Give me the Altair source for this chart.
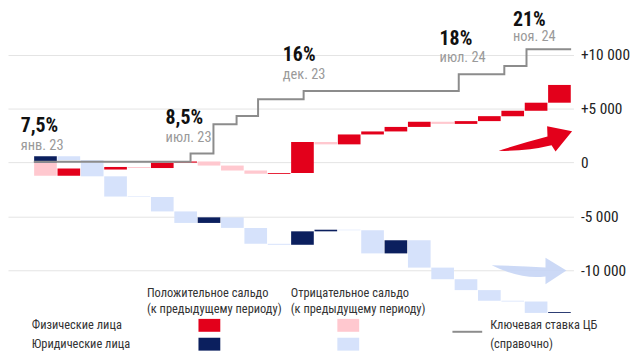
import altair as alt
import pandas as pd

FONT = "Roboto Condensed, Liberation Sans Narrow, DejaVu Sans Condensed, Roboto, sans-serif"

months = ["янв. 23", "фев. 23", "мар. 23", "апр. 23", "май 23", "июн. 23", "июл. 23",
          "авг. 23", "сен. 23", "окт. 23", "ноя. 23", "дек. 23", "янв. 24", "фев. 24",
          "мар. 24", "апр. 24", "май 24", "июн. 24", "июл. 24", "авг. 24", "сен. 24",
          "окт. 24", "ноя. 24"]
phys_change = [-1230, 670, -100, 240, -100, 500, 110, -380, -460, -310, 80, 2880,
               -220, 920, 280, 420, 480, -200, 260, 460, 500, 750, 1650]
legal_change = [580, -370, -1500, -1880, -40, -1340, -1070, 520, -980, -1480, -90, 1250,
                150, -50, -2150, 1220, -2540, -1080, -1010, -990, -70, -1060, 80]
rate_from = [0, 6.71, 7.69, 8.68, 9.60, 11.55, 18.19, 20.14, 21.09, 23.0]
rate_level = [7.5, 8.5, 12, 13, 15, 16, 18, 19, 21, 21]
note_value = ["7,5%", "8,5%", "16%", "18%", "21%"]
note_date = ["янв. 23", "июл. 23", "дек. 23", "июл. 24", "ноя. 24"]
note_level = [7.5, 8.5, 16, 18, 21]
note_from = [-0.56, 5.64, 10.66, 17.37, 20.51]
axis_ticks = [-10000, -5000, 0, 5000, 10000]
arrow_month = [21.47, 21.2]
arrow_value = [2240, -10065]

RED, PINK, NAVY, LBLUE, GREY = "#e3001b", "#ffc8cf", "#0b1f5e", "#d6e2fb", "#8c8c8c"

rows = []
for name, changes in (("phys", phys_change), ("legal", legal_change)):
    total = 0
    for i, c in enumerate(changes):
        start = total
        total += c
        rows.append(dict(idx=i, month=months[i], start=start, end=total,
                         kind=name + ("_pos" if c >= 0 else "_neg")))
bars = pd.DataFrame(rows)
bars["x0"] = bars["idx"] + 0.015
bars["x1"] = bars["idx"] + 0.985

W, H = 570, 340
xs = alt.Scale(domain=[-1.104, 23.1], nice=False, zero=False)
ys = alt.Scale(domain=[-17115, 14221], nice=False, zero=False)
rs = alt.Scale(domain=[-14.68, 25.80], nice=False, zero=False)
cs = alt.Scale(domain=["phys_pos", "phys_neg", "legal_pos", "legal_neg"],
               range=[RED, PINK, NAVY, LBLUE])

yaxis = alt.Axis(orient="right", values=axis_ticks, title=None, domain=False, ticks=False,
                 grid=True, gridColor="#e4e4e4", gridWidth=1, labelPadding=7,
                 labelFont=FONT, labelFontSize=15.5, labelColor="#222", labelAlign="left",
                 labelExpr="datum.value == 0 ? '\u20070' : (datum.value > 0 ? '+' : '-') + replace(format(abs(datum.value), ','), ',', ' ')")

bar_layer = alt.Chart(bars).mark_rect().encode(
    x=alt.X("x0:Q", scale=xs, axis=None), x2="x1",
    y=alt.Y("start:Q", scale=ys, axis=yaxis), y2="end",
    color=alt.Color("kind:N", scale=cs, legend=None),
)

rate_df = pd.DataFrame({"x": rate_from, "rate": rate_level})
rate_layer = alt.Chart(rate_df).mark_line(interpolate="step-after", color=GREY, strokeWidth=2).encode(
    x=alt.X("x:Q", scale=xs, axis=None), y=alt.Y("rate:Q", scale=rs, axis=None))

notes = pd.DataFrame({"x": note_from, "level": note_level, "value": note_value, "date": note_date})
notes_low = notes.iloc[:-1]
notes_top = notes.iloc[-1:]


def note_layers(df, dv, dd):
    enc = dict(x=alt.X("x:Q", scale=xs, axis=None), y=alt.Y("level:Q", scale=rs, axis=None))
    v = alt.Chart(df).mark_text(align="left", baseline="middle", dy=dv, font=FONT,
                                fontSize=20, fontWeight="bold", color="#111").encode(text="value:N", **enc)
    d = alt.Chart(df).mark_text(align="left", baseline="middle", dy=dd, font=FONT,
                                fontSize=14.5, color="#9a9a9a").encode(text="date:N", **enc)
    return [v, d]


RED_ARROW = ("M -1 0.34 Q -0.26 0.36 0.44 0.19 L 0.55 0.36 L 1 -0.19 L 0.32 -0.33 "
             "L 0.33 -0.05 Q -0.4 0.14 -1 0.34 Z")
BLUE_ARROW = ("M -1 -0.15 Q -0.35 -0.13 0.44 -0.09 L 0.44 -0.35 L 1 -0.01 L 0.44 0.36 "
              "L 0.44 0.15 Q -0.22 0.24 -1 -0.15 Z")
arr1 = alt.Chart(pd.DataFrame({"x": arrow_month[:1], "y": arrow_value[:1]})).mark_point(
    shape=RED_ARROW, filled=True, size=5476, color=RED, opacity=1).encode(
    x=alt.X("x:Q", scale=xs, axis=None), y=alt.Y("y:Q", scale=ys, axis=None))
arr2 = alt.Chart(pd.DataFrame({"x": arrow_month[1:], "y": arrow_value[1:]})).mark_point(
    shape=BLUE_ARROW, filled=True, size=5670, color="#c6d5f5", opacity=0.9).encode(
    x=alt.X("x:Q", scale=xs, axis=None), y=alt.Y("y:Q", scale=ys, axis=None))

one = pd.DataFrame({"k": [0]})


def label(txt, px, py):
    return alt.Chart(pd.DataFrame({"t": [txt]})).mark_text(
        align="left", baseline="middle", font=FONT, fontSize=12.5, color="#333").encode(
        x=alt.value(px), y=alt.value(py), text="t:N")


def swatch(col, x0, x1, y0, y1):
    return alt.Chart(one).mark_rect(color=col).encode(
        x=alt.value(x0), x2=alt.value(x1), y=alt.value(y0), y2=alt.value(y1))


legend = [
    label("Положительное сальдо", 140, 286),
    label("(к предыдущему периоду)", 140, 302.5),
    label("Отрицательное сальдо", 285, 286),
    label("(к предыдущему периоду)", 285, 302.5),
    label("Физические лица", 24, 318.5),
    label("Юридические лица", 24, 337),
    label("Ключевая ставка ЦБ", 486, 318.5),
    label("(справочно)", 486, 337),
    swatch(RED, 192, 214, 312, 325),
    swatch(NAVY, 192, 214, 331, 344),
    swatch(PINK, 332, 354, 312, 325),
    swatch(LBLUE, 332, 354, 331, 344),
    alt.Chart(one).mark_rule(color=GREY, strokeWidth=2).encode(
        x=alt.value(448), x2=alt.value(478), y=alt.value(325)),
]

chart = alt.layer(bar_layer, arr1, arr2, rate_layer,
                  *note_layers(notes_low, -36, -16), *note_layers(notes_top, -30, -12),
                  *legend).resolve_scale(
    y="independent").properties(
    width=W, height=H,
    padding={"left": 0, "top": 0, "right": 58, "bottom": 4},
    autosize=alt.AutoSizeParams(type="none"),
).configure_view(stroke=None)

chart.save("out.html", embed_options={"renderer": "svg", "actions": False})
